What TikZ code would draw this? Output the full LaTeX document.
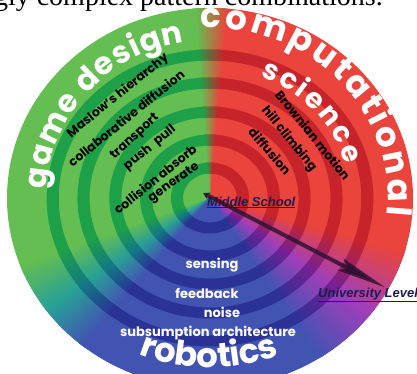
\documentclass[tikz,border=0pt]{standalone}
\usepackage{fontspec}
\setmainfont{Poppins}
\newfontfamily\pagefont{Liberation Serif}
\newfontfamily\levelfont{Liberation Sans}
\usetikzlibrary{arrows.meta,decorations.text}

\definecolor{gdL}{RGB}{100,190,82}
\definecolor{gdD}{RGB}{30,160,72}
\definecolor{tlL}{RGB}{40,160,150}
\definecolor{tlD}{RGB}{18,122,132}
\definecolor{rbL}{RGB}{66,84,178}
\definecolor{rbD}{RGB}{42,50,150}
\definecolor{ppL}{RGB}{160,62,186}
\definecolor{ppD}{RGB}{118,32,148}
\definecolor{csL}{RGB}{234,68,60}
\definecolor{csD}{RGB}{198,36,42}
\definecolor{levelblue}{RGB}{28,28,78}
\definecolor{pointerdark}{RGB}{42,16,48}

\begin{document}
\begin{tikzpicture}[x=1pt, y=1pt,
  lbl/.style={font=\bfseries\fontsize{12.5}{14}\selectfont, inner sep=0pt},
  gdlbl/.style={lbl, rotate=39},
  cslbl/.style={lbl, rotate=-51},
  rblbl/.style={lbl, text=white, font=\bfseries\fontsize{13}{15}\selectfont},
  level/.style={font=\levelfont\bfseries\itshape\fontsize{13}{15}\selectfont, text=levelblue, inner sep=0pt, anchor=base west},
  curved/.style={decorate, decoration={text along path, text color=white, text align={fit to path}, text={#1}}},
  pointer/.style={draw=pointerdark, opacity=.8, line width=4pt, {Stealth[length=7pt,width=8pt]}-{Stealth[length=50pt,width=13pt,inset=8pt]}}]

\useasboundingbox (-210,-175) rectangle (207,198);
\clip (-210,-175) rectangle (207,198);

\node[font=\pagefont\fontsize{28}{30}\selectfont, anchor=base east, inner sep=0pt] (page) at (173,193) {ingly complex pattern combinations.};

\foreach \s in {L,D}{
  \begin{scope}
    \clip (0,0) ellipse [x radius=203, y radius=190];
    \if\s D\clip \foreach \r in {30,58,86,115,143}{(0,0) ellipse [x radius={1.1*(\r+5.5)}, y radius={\r+5.5}] ({1.1*(\r-5.5)},0) arc [start angle=0, end angle=-360, x radius={1.1*(\r-5.5)}, y radius={\r-5.5}]};\fi
    \foreach \a/\b/\ca/\cb in {-15/85/cs/cs, 95/200/gd/gd, 230/305/rb/rb, 85/95/cs/gd, 200/215/gd/tl, 215/230/tl/rb, 305/325/rb/pp, 325/345/pp/cs}{
      \ifx\ca\cb
        \colorlet{wedge}{\ca\s}
        \fill[wedge] (0,0) -- ({\a-2}:300) arc [start angle=\a-2, end angle=\b+2, radius=300] -- cycle;
      \else
        \foreach \t in {\a,...,\b}{
          \pgfmathsetmacro\p{100*(\b-\t)/(\b-\a)}
          \colorlet{wedge}{\ca\s!\p!\cb\s}
          \fill[wedge] ({\t+180}:2) -- ({\t-1}:300) -- ({\t+1}:300) -- cycle;
        }
      \fi
    }
  \end{scope}
}

\path[curved={|\bfseries\fontsize{31}{33}\selectfont|game design}] (177:164 and 158) arc[start angle=177, end angle=99, x radius=164, y radius=158];
\path[curved={|\bfseries\fontsize{34}{36}\selectfont|computational}] (93:178 and 170) arc[start angle=93, end angle=-6, x radius=178, y radius=170];
\path[curved={|\bfseries\fontsize{28}{30}\selectfont|science}] (69:140 and 130) arc[start angle=69, end angle=15, x radius=140, y radius=130];
\path[curved={|\bfseries\fontsize{34}{36}\selectfont|robotics}] (247:182 and 170) arc[start angle=247, end angle=292, x radius=182, y radius=170];

\node[gdlbl] (maslow) at (-92,102) {Maslow's hierarchy};
\node[gdlbl] (collab) at (-84,80) {collaborative diffusion};
\node[gdlbl, rotate=4] (transport) at (-75,61) {transport};
\node[gdlbl] (pushpull) at (-60,50) {push\enspace pull};
\node[gdlbl] (collision) at (-55,19) {collision absorb};
\node[gdlbl, rotate=-4] (generate) at (-36,15) {generate};

\node[cslbl] (brownian) at (103,63) {Brownian motion};
\node[cslbl] (hill) at (79,59) {hill climbing};
\node[cslbl, rotate=2] (diffusion) at (60,47) {diffusion};

\node[rblbl] (sensing) at (2,-67) {sensing};
\node[rblbl] (feedback) at (-3,-95) {feedback};
\node[rblbl] (noise) at (12,-114) {noise};
\node[rblbl] (subsumption) at (-2,-135) {subsumption architecture};

\node[level] (middle) at (-3,-8) {\underline{Middle School}};
\node[level] (univ) at (108,-99) {\underline{University Level}};
\coordinate (tail) at (-7,5);

\path (tail) edge[pointer] ([xshift=17pt]univ.north);
\end{tikzpicture}
\end{document}
